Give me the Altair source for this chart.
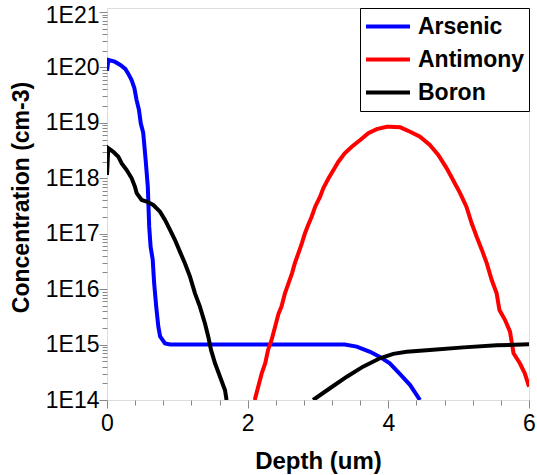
import altair as alt
import pandas as pd

# Dopant concentration profiles versus depth
species = ["Arsenic", "Antimony", "Boron"]
colors = ["#0000ff", "#ff0000", "#000000"]

arsenic_depth = [0.0, 0.02, 0.11, 0.19, 0.26, 0.30, 0.35, 0.39, 0.42, 0.455, 0.48,
                 0.515, 0.55, 0.58, 0.60, 0.62, 0.65, 0.67, 0.70, 0.73, 0.755, 0.825,
                 0.90, 3.38, 3.55, 3.74, 3.88, 4.02, 4.16, 4.31, 4.45]
arsenic_conc = [8.7e19, 1.36e20, 1.27e20, 1.11e20, 9.4e19, 7.8e19, 5.9e19, 4.2e19, 2.6e19,
                1.7e19, 9.8e18, 6.6e18, 2.1e18, 7.1e17, 1.34e17, 5.8e16, 3.4e16, 1.3e16,
                4.8e15, 2.1e15, 1.4e15, 1.05e15, 1.0e15, 1.0e15, 9.2e14, 7.4e14, 6.0e14,
                4.6e14, 3.0e14, 1.86e14, 1.0e14]

antimony_depth = [2.10, 2.15, 2.20, 2.25, 2.29, 2.34, 2.39, 2.44, 2.48, 2.53, 2.58, 2.63,
                  2.67, 2.72, 2.77, 2.815, 2.86, 2.91, 2.96, 3.03, 3.075, 3.15, 3.22, 3.29,
                  3.38, 3.48, 3.60, 3.715, 3.835, 3.98, 4.02, 4.17, 4.31, 4.45, 4.59, 4.71,
                  4.83, 4.92, 5.02, 5.11, 5.185, 5.256, 5.33, 5.40, 5.47, 5.54, 5.58, 5.66,
                  5.73, 5.78, 5.87, 5.94, 6.0]
antimony_conc = [1.0e14, 1.74e14, 3.03e14, 4.6e14, 8.0e14, 1.21e15, 2.1e15, 3.66e15, 4.8e15,
                 8.4e15, 1.27e16, 1.93e16, 2.92e16, 4.4e16, 6.7e16, 1.02e17, 1.44e17, 2.03e17,
                 3.07e17, 4.66e17, 6.6e17, 1.0e18, 1.41e18, 1.99e18, 2.82e18, 3.7e18, 4.9e18,
                 6.5e18, 7.7e18, 8.5e18, 8.5e18, 8.3e18, 6.9e18, 5.6e18, 4.0e18, 2.63e18,
                 1.51e18, 9.3e17, 5.4e17, 3.07e17, 1.54e17, 8.8e16, 5.1e16, 2.92e16, 1.46e16,
                 8.4e15, 4.2e15, 2.77e15, 1.71e15, 6.95e14, 4.6e14, 3.03e14, 1.74e14]

boron_near_depth = [0.0, 0.018, 0.09, 0.161, 0.209, 0.28, 0.351, 0.398, 0.422, 0.493, 0.564,
                    0.658, 0.754, 0.825, 0.896, 0.967, 1.038, 1.109, 1.18, 1.251, 1.322,
                    1.393, 1.44, 1.479, 1.536, 1.607, 1.678, 1.70]
boron_near_conc = [1.15e18, 3.5e18, 3.0e18, 2.45e18, 1.86e18, 1.41e18, 1.0e18, 7.0e17,
                   5.4e17, 4.06e17, 3.8e17, 3.3e17, 2.5e17, 1.77e17, 1.17e17, 7.7e16, 4.7e16,
                   2.9e16, 1.68e16, 8.4e15, 4.8e15, 2.4e15, 1.39e15, 8.0e14, 4.6e14, 2.63e14,
                   1.5e14, 1.0e14]

boron_deep_depth = [2.93, 3.17, 3.41, 3.64, 3.88, 4.07, 4.26, 4.59, 5.07, 5.54, 6.0]
boron_deep_conc = [1.0e14, 1.63e14, 2.63e14, 4.0e14, 5.65e14, 6.8e14, 7.4e14, 7.95e14,
                   8.9e14, 9.7e14, 1.01e15]

rows = []


def add_profile(name, part, depths, concs):
    for i, (d, c) in enumerate(zip(depths, concs)):
        rows.append({"species": name, "segment": part, "seq": i, "depth": d, "conc": c})


add_profile("Arsenic", "as", arsenic_depth, arsenic_conc)
add_profile("Antimony", "sb", antimony_depth, antimony_conc)
add_profile("Boron", "b1", boron_near_depth, boron_near_conc)
add_profile("Boron", "b2", boron_deep_depth, boron_deep_conc)
df = pd.DataFrame(rows)

font = "Liberation Sans"

decades = [10.0 ** e for e in range(14, 22)]
y_ticks = sorted(decades + [m * 10.0 ** e for e in range(14, 21) for m in range(2, 10)])
x_ticks = [0, 0.4, 0.8, 1.2, 1.6, 2, 2.4, 2.8, 3.2, 3.6, 4, 4.4, 4.8, 5.2, 5.6, 6]

is_decade = "abs(log(datum.value)/LN10 - round(log(datum.value)/LN10)) < 0.001"
is_even = "abs(datum.value/2 - round(datum.value/2)) < 0.001"

x_axis = alt.Axis(
    title="Depth (um)",
    values=x_ticks,
    labelExpr=f"({is_even}) ? format(datum.value, 'd') : ''",
    tickSize={"condition": {"test": is_even, "value": 8}, "value": 5},
    labelFlush=False,
    labelOverlap=False,
    labelBaseline="alphabetic",
    labelPadding=22,
    labelFontSize=23,
    titleFontSize=24,
    titleX=211,
    titleY=68,
    titleBaseline="alphabetic",
    titleAlign="center",
    grid=False,
    domain=False,
)

y_axis = alt.Axis(
    title="Concentration (cm-3)",
    values=y_ticks,
    labelExpr=f"({is_decade}) ? '1E' + round(log(datum.value)/LN10) : ''",
    tickSize={"condition": {"test": is_decade, "value": 8}, "value": 5},
    # keep the topmost label inside the canvas
    labelOffset={"condition": {"test": "datum.value > 5e20", "value": 4}, "value": 0},
    labelOverlap=False,
    labelBaseline="middle",
    labelPadding=0,
    labelFontSize=23,
    titleFontSize=23,
    titleAngle=270,
    titleX=-79,
    titleY=189,
    titleBaseline="alphabetic",
    titleAlign="center",
    grid=False,
    domain=False,
)

legend = alt.Legend(
    title=None,
    orient="top-right",
    offset=0,
    padding=4,
    strokeColor="black",
    fillColor="white",
    symbolType="stroke",
    symbolSize=1936,
    symbolStrokeWidth=4,
    clipHeight=29,
    rowPadding=4,
    labelOffset=6,
    labelFontSize=23,
    labelFont=font,
    labelFontWeight="bold",
    labelColor="black",
)

chart = (
    alt.Chart(df)
    .mark_line(strokeWidth=4, clip=True)
    .encode(
        x=alt.X("depth:Q", scale=alt.Scale(domain=[0, 6], nice=False, zero=False), axis=x_axis),
        y=alt.Y("conc:Q", scale=alt.Scale(type="log", domain=[1e14, 1.18e21], nice=False),
                axis=y_axis),
        color=alt.Color("species:N", scale=alt.Scale(domain=species, range=colors),
                        legend=legend),
        detail="segment:N",
        order="seq:Q",
    )
    .properties(
        width=422,
        height=392,
        autosize=alt.AutoSizeParams(type="none"),
        padding={"left": 107, "top": 8, "right": 8, "bottom": 75},
    )
    .configure_view(stroke="black", strokeWidth=1.5)
    .configure_legend(strokeWidth=1, cornerRadius=0)
    .configure_axis(
        labelFont=font,
        labelFontWeight="bold",
        labelColor="black",
        titleFont=font,
        titleFontWeight="bold",
        titleColor="black",
        tickColor="black",
        tickWidth=1,
    )
    .configure(background="white")
)

chart.save("out.html", embed_options={"renderer": "svg", "actions": False})
